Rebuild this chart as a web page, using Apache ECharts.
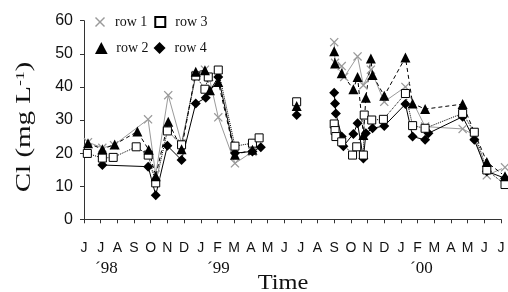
<!DOCTYPE html>
<html>
<head>
<meta charset="utf-8">
<script src="https://cdn.jsdelivr.net/npm/echarts@6/dist/echarts.min.js"></script>
<style>
  html, body { margin: 0; padding: 0; background: #fff; }
  #chart { width: 508px; height: 292px; }
</style>
</head>
<body>
<div id="chart"></div>
<script>
// month ticks, June '98 .. July '00 (0 = June '98)
var monthLabels = ['J','J','A','S','O','N','D','J','F','M','A','M','J','J','A','S','O','N','D','J','F','M','A','M','J','J'];
var yearLabels = ['\u00b498', '\u00b499', '\u00b400'];

// sampling dates in months since June '98, values in mg/L (null = gap)
var row1Months = [0.24, 1.1, 1.8, 3.84, 4.3, 5.05, 5.85, 6.7, 7.25, 7.5, 8.05, 9.05, 10.1, 11.5,
  15.0, 15.05, 15.45, 15.6, 16.4, 16.75, 17.2, 18.0, 19.27, 20.45, 22.7, 23.4, 24.15, 25.24];
var row1Values = [23.3, 21.6, 22.4, 30.2, 13.5, 37.5, 23, 43.6, 45.2, 43, 30.8, 16.9, 20.4, null,
  53.5, 47.3, 46.3, 43, 49.2, 40.5, 45.2, 35.5, 40, 28, 27.3, 25.5, 13.3, 15.7];

var row2Months = [0.24, 1.1, 1.84, 3.2, 3.88, 4.3, 5.05, 5.85, 6.7, 7.25, 7.55, 8.05, 9.05, 10.1, 11.5, 12.75, 14,
  15.0, 15.05, 15.45, 16.15, 16.4, 16.75, 16.9, 17.2, 17.3, 18.0, 19.27, 19.7, 20.45, 22.7, 24.15, 25.24];
var row2Values = [23, 21.2, 22.6, 26.5, 21, 13, 29.5, 21.2, 44.6, 45, 39, 41.5, 19.5, 21, null, 34.2, null,
  50.8, 47.1, 44.1, 39.3, 43, 25.5, 36.7, 48.6, 43.6, 37.3, 48.9, 35, 33.3, 34.8, 17.3, 13];

var row3Months = [0.2, 1.1, 1.75, 3.13, 3.85, 4.3, 5.0, 5.85, 6.7, 7.25, 7.45, 8.05, 9.05, 10.1, 10.5, 11.5, 12.75, 14,
  15.0, 15.05, 15.1, 15.45, 16.1, 16.35, 16.75, 16.8, 17.25, 17.95, 19.27, 19.7, 20.45, 22.7, 23.4, 24.15, 25.24];
var row3Values = [19.9, 18.5, 18.7, 21.9, 19.4, 11, 26.7, 22.5, 43.3, 39.3, 43, 45.1, 22.1, 23, 24.6, null, 35.5, null,
  28.8, 26.8, 25, 23.4, 19.4, 21.9, 19.4, 31.5, 30, 30.2, 38, 28.3, 27.5, 32, 26.3, 14.9, 10.5];

var row4Months = [1.1, 3.85, 4.3, 5.0, 5.85, 6.7, 7.3, 8.05, 9.05, 10.1, 10.6, 11.5, 12.75, 14,
  15.0, 15.05, 15.1, 15.45, 15.55, 16.15, 16.4, 16.75, 16.9, 17.3, 18.0, 19.27, 19.7, 20.45, 20.65, 22.7, 23.4, 24.15, 25.24];
var row4Values = [16.4, 15.9, 7.3, 22.2, 17.9, 35, 36.7, 43, 20, 20.5, 21.8, null, 31.5, null,
  38.2, 35, 32, 25, 22.1, 25.8, 29, 18.4, 26, 27.5, 28.2, 34.8, 25, 24, 26, 31, 24, 14.5, 12.4];

function pairs(xs, ys) {
  return xs.map(function (x, i) { return [x, ys[i]]; });
}

var crossPath = 'path://M2,0L10,8L18,0L20,2L12,10L20,18L18,20L10,12L2,20L0,18L8,10L0,2Z';
var squarePath = 'path://M0,0L20,0L20,20L0,20Z';
var trianglePath = 'path://M10,0L20,19L0,19Z';
var diamondPath = 'path://M10,0L20,10L10,20L0,10Z';
var serif = 'Liberation Serif, Times New Roman, serif';
var sans = 'Liberation Sans, Arial, sans-serif';
var axisColor = '#333';

var chart = echarts.init(document.getElementById('chart'));

var option = {
  animation: false,
  backgroundColor: '#fff',
  grid: { left: 84, right: 7, top: 20.7, bottom: 72.7, outerBoundsMode: 'none' },
  legend: [{
    left: 90, top: 10,
    itemWidth: 20, itemHeight: 10, itemGap: 7,
    selectedMode: false,
    textStyle: { fontFamily: serif, fontSize: 14, color: '#111' },
    data: [{ name: 'row 1', icon: crossPath }, { name: 'row 3', icon: squarePath }]
  }, {
    left: 90, top: 36,
    itemWidth: 20, itemHeight: 12, itemGap: 5,
    selectedMode: false,
    textStyle: { fontFamily: serif, fontSize: 14, color: '#111' },
    data: [{ name: 'row 2', icon: trianglePath }, { name: 'row 4', icon: diamondPath }]
  }],
  xAxis: {
    type: 'value',
    min: 0, max: 25, interval: 1,
    axisLine: { lineStyle: { color: axisColor } },
    axisTick: { length: 4, lineStyle: { color: axisColor } },
    splitLine: { show: false },
    axisLabel: {
      margin: 22,
      fontFamily: sans, fontSize: 14, color: '#111',
      formatter: function (v) { return monthLabels[Math.round(v)] || ''; }
    }
  },
  yAxis: {
    type: 'value',
    min: 0, max: 60, interval: 10,
    axisLine: { show: true, lineStyle: { color: axisColor } },
    axisTick: { show: true, length: 4, lineStyle: { color: axisColor } },
    splitLine: { show: false },
    axisLabel: { margin: 11, fontFamily: sans, fontSize: 16, color: '#111' }
  },
  graphic: [
    { type: 'text', left: 95, top: 260, style: { text: yearLabels[0], font: '17px ' + serif, fill: '#111' } },
    { type: 'text', left: 207, top: 260, style: { text: yearLabels[1], font: '17px ' + serif, fill: '#111' } },
    { type: 'text', left: 410, top: 260, style: { text: yearLabels[2], font: '17px ' + serif, fill: '#111' } },
    {
      type: 'text', x: 283, y: 284, scaleX: 1.22,
      style: { text: 'Time', font: '20px ' + serif, fill: '#111', align: 'center', verticalAlign: 'middle' }
    },
    {
      type: 'text', x: 25, y: 127, rotation: Math.PI / 2, scaleX: 1.45,
      style: {
        text: 'Cl (mg L{sup|-1})', font: '20px ' + serif, fill: '#111',
        align: 'center', verticalAlign: 'middle',
        rich: { sup: { font: '12px ' + serif, fill: '#111', verticalAlign: 'top', padding: [0, 0, 8, 0] } }
      }
    }
  ],
  series: [{
    name: 'row 1',
    type: 'line',
    clip: false,
    showAllSymbol: true,
    symbol: crossPath,
    symbolSize: 9,
    itemStyle: { color: '#9a9a9a' },
    lineStyle: { color: '#9a9a9a', width: 1 },
    data: pairs(row1Months, row1Values)
  }, {
    name: 'row 4',
    type: 'line',
    clip: false,
    showAllSymbol: true,
    symbol: 'diamond',
    symbolSize: 10,
    itemStyle: { color: '#000' },
    lineStyle: { color: '#000', width: 1 },
    data: pairs(row4Months, row4Values)
  }, {
    name: 'row 3',
    type: 'line',
    clip: false,
    showAllSymbol: true,
    symbol: 'rect',
    symbolSize: 8,
    itemStyle: { color: '#fff', borderColor: '#000', borderWidth: 1 },
    lineStyle: { color: '#000', width: 1, type: 'dotted' },
    data: pairs(row3Months, row3Values)
  }, {
    name: 'row 2',
    type: 'line',
    clip: false,
    showAllSymbol: true,
    symbol: 'triangle',
    symbolSize: 10,
    itemStyle: { color: '#000' },
    lineStyle: { color: '#000', width: 1, type: [4, 3] },
    data: pairs(row2Months, row2Values)
  }]
};

chart.setOption(option);
</script>
</body>
</html>
